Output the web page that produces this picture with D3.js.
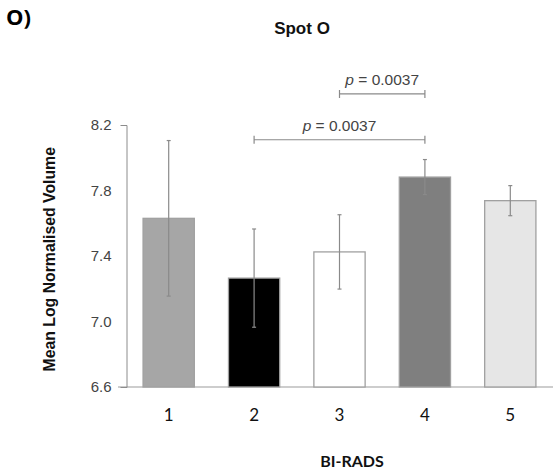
<!DOCTYPE html>
<html>
<head>
<meta charset="utf-8">
<script src="https://cdn.jsdelivr.net/npm/d3@7"></script>
<style>
  body { margin: 0; background: #fff; }
  svg { display: block; }
</style>
</head>
<body>
<svg id="mainSVG" width="554" height="473"></svg>
<script>
// data
var categories = ['1', '2', '3', '4', '5'];
var means = [7.63, 7.265, 7.425, 7.882, 7.738];
var errors = [0.475, 0.30, 0.227, 0.107, 0.092];
var fills = ['#a6a6a6', '#000000', '#ffffff', '#7f7f7f', '#e6e6e6'];
var yTicks = [6.6, 7.0, 7.4, 7.8, 8.2];
var comparisons = [
  { from: '2', to: '4', y: 8.11, label: '0.0037' },
  { from: '3', to: '4', y: 8.39, label: '0.0037' }
];

var svg = d3.select('#mainSVG');

var x = d3.scaleBand()
  .domain(categories)
  .range([126, 553])
  .paddingInner(0.4)
  .paddingOuter(0.2);

var y = d3.scaleLinear()
  .domain([6.6, 8.2])
  .range([387, 125]);

// panel letter and title
svg.append('text')
  .attr('x', 6).attr('y', 25)
  .attr('font-family', 'Open Sans, sans-serif')
  .attr('font-weight', 'bold')
  .attr('font-size', 22)
  .attr('fill', '#000')
  .text('O)');

svg.append('text')
  .attr('x', 302).attr('y', 34)
  .attr('text-anchor', 'middle')
  .attr('font-family', 'Liberation Sans, Arial, sans-serif')
  .attr('font-weight', 'bold')
  .attr('font-size', 17)
  .attr('fill', '#111')
  .text('Spot O');

// baseline
svg.append('line')
  .attr('x1', 118).attr('x2', 553)
  .attr('y1', y(6.6)).attr('y2', y(6.6))
  .attr('stroke', '#bdbdbd')
  .attr('stroke-width', 1.5);

// y axis
var yAxis = d3.axisLeft(y)
  .tickValues(yTicks)
  .tickFormat(d3.format('.1f'))
  .tickSizeInner(0)
  .tickSizeOuter(6)
  .tickPadding(15);

var gy = svg.append('g')
  .attr('transform', 'translate(126.5,0)')
  .call(yAxis);

gy.select('.domain').attr('stroke', '#8c8c8c').attr('stroke-width', 1);
gy.selectAll('text')
  .attr('font-family', 'Liberation Sans, Arial, sans-serif')
  .attr('font-size', 15)
  .attr('fill', '#444');

// bars
svg.selectAll('rect.bar')
  .data(categories)
  .enter().append('rect')
  .attr('class', 'bar')
  .attr('x', function(d) { return x(d); })
  .attr('width', x.bandwidth())
  .attr('y', function(d, i) { return y(means[i]); })
  .attr('height', function(d, i) { return y(6.6) - y(means[i]); })
  .attr('fill', function(d, i) { return fills[i]; })
  .attr('stroke', '#a0a0a0')
  .attr('stroke-width', 1.3);

// error bars
var eb = svg.selectAll('g.err')
  .data(categories)
  .enter().append('g')
  .attr('class', 'err')
  .attr('stroke', '#8a8a8a')
  .attr('stroke-width', 1.2);

eb.append('line')
  .attr('x1', function(d) { return x(d) + x.bandwidth() / 2; })
  .attr('x2', function(d) { return x(d) + x.bandwidth() / 2; })
  .attr('y1', function(d, i) { return y(means[i] + errors[i]); })
  .attr('y2', function(d, i) { return y(means[i] - errors[i]); });

[1, -1].forEach(function(s) {
  eb.append('line')
    .attr('x1', function(d) { return x(d) + x.bandwidth() / 2 - 2; })
    .attr('x2', function(d) { return x(d) + x.bandwidth() / 2 + 2; })
    .attr('y1', function(d, i) { return y(means[i] + s * errors[i]); })
    .attr('y2', function(d, i) { return y(means[i] + s * errors[i]); });
});

// x labels
svg.selectAll('text.xlab')
  .data(categories)
  .enter().append('text')
  .attr('class', 'xlab')
  .attr('x', function(d) { return x(d) + x.bandwidth() / 2; })
  .attr('y', 421)
  .attr('text-anchor', 'middle')
  .attr('font-family', 'Lato, sans-serif')
  .attr('font-size', 17)
  .attr('fill', '#111')
  .text(function(d) { return d; });

svg.append('text')
  .attr('x', 352).attr('y', 467)
  .attr('text-anchor', 'middle')
  .attr('font-family', 'Lato, sans-serif')
  .attr('font-weight', 'bold')
  .attr('font-size', 16)
  .attr('fill', '#111')
  .text('BI-RADS');

svg.append('text')
  .attr('transform', 'translate(55,' + y(7.38) + ') rotate(-90)')
  .attr('text-anchor', 'middle')
  .attr('font-family', 'Liberation Sans, Arial, sans-serif')
  .attr('font-weight', 'bold')
  .attr('font-size', 15.8)
  .attr('fill', '#111')
  .text('Mean Log Normalised Volume');

// significance brackets
var cx = function(c) { return x(c) + x.bandwidth() / 2; };
var br = svg.selectAll('g.sig')
  .data(comparisons)
  .enter().append('g')
  .attr('class', 'sig');

br.append('path')
  .attr('fill', 'none')
  .attr('stroke', '#8a8a8a')
  .attr('stroke-width', 1.2)
  .attr('d', function(d) {
    var yy = y(d.y), x1 = cx(d.from), x2 = cx(d.to);
    return 'M' + x1 + ',' + (yy - 4) + 'V' + (yy + 4) +
      'M' + x1 + ',' + yy + 'H' + x2 +
      'M' + x2 + ',' + (yy - 4) + 'V' + (yy + 4);
  });

var lab = br.append('text')
  .attr('x', function(d) { return (cx(d.from) + cx(d.to)) / 2; })
  .attr('y', function(d) { return y(d.y) - 9; })
  .attr('text-anchor', 'middle')
  .attr('font-family', 'Liberation Sans, Arial, sans-serif')
  .attr('font-size', 15.5)
  .attr('fill', '#444');

lab.append('tspan').attr('font-style', 'italic').text('p');
lab.append('tspan').text(function(d) { return ' = ' + d.label; });
</script>
</body>
</html>
